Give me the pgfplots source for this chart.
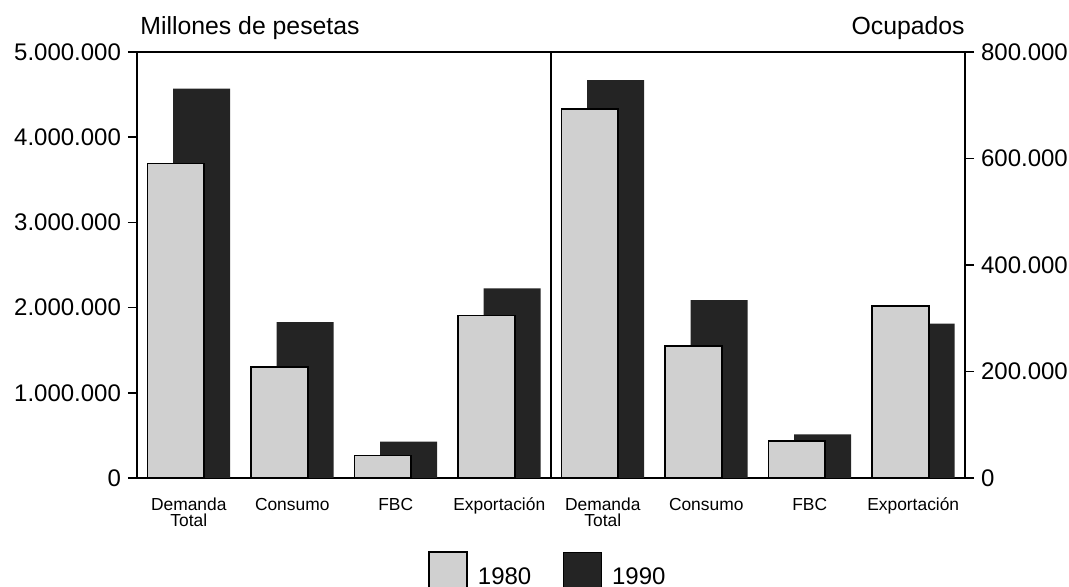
\documentclass[border=0pt]{standalone}
\usepackage{pgfplots}
\pgfplotsset{compat=1.18}
\usepackage{fontspec}
\setmainfont{Liberation Sans}
\definecolor{c80}{RGB}{208,208,208}
\definecolor{c90}{RGB}{36,36,36}
\begin{document}
\begin{tikzpicture}
\pgfplotsset{
  common/.style={
    width=414pt, height=213pt, scale only axis,
    at={(0pt,0pt)}, anchor=south west,
    xmin=-0.5, xmax=7.5, ymin=0,
    axis line style={line width=0.8pt},
    every tick/.style={line width=0.8pt, black},
    major tick length=4.5pt, tick align=outside,
    scaled y ticks=false,
    /pgf/number format/.cd, fixed, 1000 sep={.}, assume math mode=true,
    /pgfplots/.cd,
    yticklabel style={font=\fontsize{12}{14}\selectfont},
    bar width=0.55,
  },
}
\path[use as bounding box] (-68.5pt,-54.5pt) rectangle (466pt,239pt);
\begin{axis}[common,
  ymax=5000000,
  ytick={0,1000000,2000000,3000000,4000000,5000000},
  ytick pos=left,
  xtick={0,1,2,3,4,5,6,7},
  xticklabels={{Demanda\\Total},Consumo,FBC,Exportación,{Demanda\\Total},Consumo,FBC,Exportación},
  xticklabel style={align=center, font=\fontsize{8.7}{8}\selectfont, yshift=-2pt},
  x tick style={draw=none},
  legend columns=2,
  legend style={draw=none, fill=none, at={(0.3514,-0.171)}, anchor=north west,
    inner sep=0pt, font=\fontsize{12}{14}\selectfont,
    /tikz/every odd column/.append style={column sep=3pt},
    /tikz/every even column/.append style={column sep=14pt}},
  legend image code/.code={\draw[#1] (0pt,-6.5pt) rectangle (19pt,13pt);},
]
\addlegendimage{fill=c80, draw=black, line width=0.8pt}
\addlegendentry{1980}
\addlegendimage{fill=c90, draw=none}
\addlegendentry{1990}
\addplot[ybar, fill=c90, draw=none, bar shift=0.125, forget plot]
  coordinates {(0,4570000) (1,1830000) (2,426000) (3,2227000)};
\addplot[ybar, fill=c80, draw=black, line width=0.8pt, bar shift=-0.125, forget plot]
  coordinates {(0,3690000) (1,1306000) (2,266000) (3,1905000)};
\draw[line width=0.8pt] (axis cs:3.5,0) -- (axis cs:3.5,5000000);
\end{axis}
\begin{axis}[common,
  ymax=800000,
  ytick={0,200000,400000,600000,800000},
  axis y line*=right,
  axis x line=none,
]
\addplot[ybar, fill=c90, draw=none, bar shift=0.125]
  coordinates {(4,747000) (5,334000) (6,82000) (7,290000)};
\addplot[ybar, fill=c80, draw=black, line width=0.8pt, bar shift=-0.125]
  coordinates {(4,693000) (5,248000) (6,70000) (7,323000)};
\end{axis}
\node[anchor=base west, font=\fontsize{12.4}{14}\selectfont, inner sep=0pt] at (1.5pt,221.5pt) {Millones de pesetas};
\node[anchor=base east, font=\fontsize{12.4}{14}\selectfont, inner sep=0pt] at (414pt,221.5pt) {Ocupados};
\end{tikzpicture}
\end{document}
